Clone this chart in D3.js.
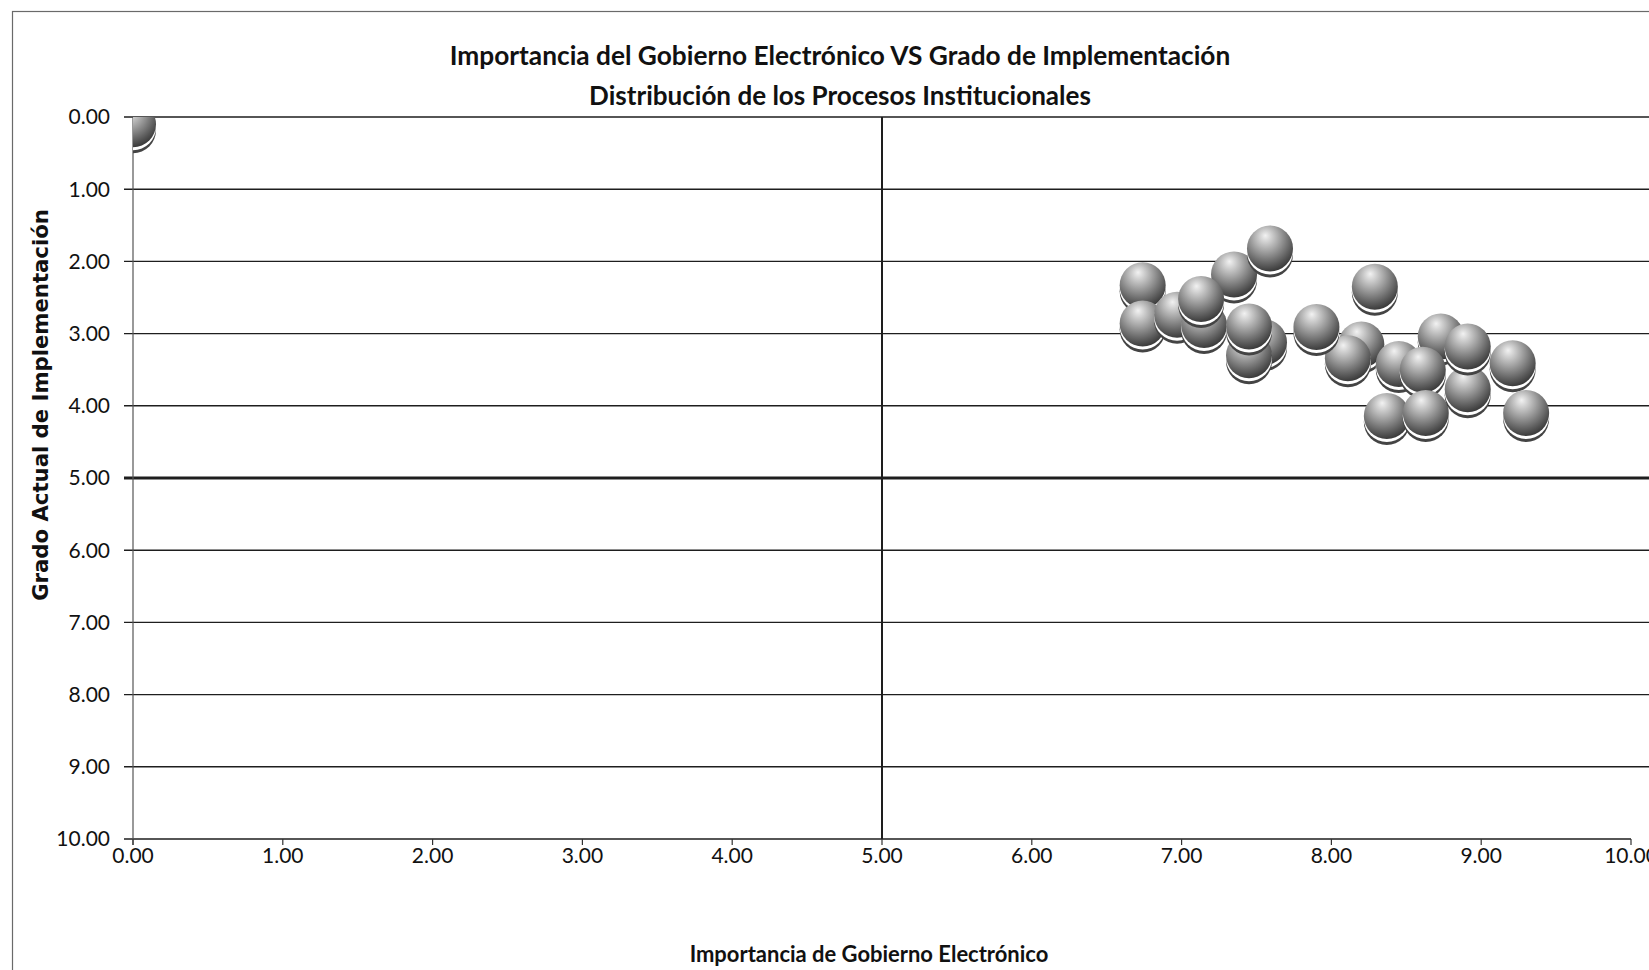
<!DOCTYPE html>
<html>
<head>
<meta charset="utf-8">
<script src="https://cdn.jsdelivr.net/npm/d3@7"></script>
<style>
  body { margin: 0; background: #fff; }
  svg { display: block; }
</style>
</head>
<body>
<div id="chart"></div>
<script>
// Texts of the chart
const titleLines = ["Importancia del Gobierno Electrónico VS Grado de Implementación",
                    "Distribución de los Procesos Institucionales"];
const xTitle = "Importancia de Gobierno Electrónico";
const yTitle = "Grado Actual de Implementación";

// Tick values of both axes
const xTicks = [0, 1, 2, 3, 4, 5, 6, 7, 8, 9, 10];
const yTicks = [0, 1, 2, 3, 4, 5, 6, 7, 8, 9, 10];

// Bubbles: importance (x) and current implementation grade (y)
const importance =     [0.00, 7.35, 7.59, 6.74, 6.74, 6.97, 7.15, 7.13, 7.55, 7.45, 7.45,
                        8.29, 8.20, 8.11, 7.90, 8.73, 8.45, 8.61, 8.37, 8.63, 8.91, 8.91, 9.21, 9.30];
const implementation = [0.10, 2.18, 1.82, 2.33, 2.86, 2.74, 2.88, 2.52, 3.12, 3.30, 2.90,
                        2.35, 3.15, 3.34, 2.91, 3.04, 3.42, 3.50, 4.14, 4.10, 3.77, 3.18, 3.41, 4.10];

const width = 1649, height = 970;
const margin = {top: 117, right: 18, bottom: 131, left: 133};
const bubbleR = 23;

const svg = d3.select("#chart")
  .append("svg")
  .attr("width", width)
  .attr("height", height);

// outer frame of the chart (cut by the picture on the right and bottom)
svg.append("rect")
  .attr("x", 12.5).attr("y", 11.5)
  .attr("width", width).attr("height", height)
  .attr("fill", "none")
  .attr("stroke", "#6a6a6a")
  .attr("stroke-width", 1.2);

const x = d3.scaleLinear().domain([0, 10]).range([margin.left, width - margin.right]);
const y = d3.scaleLinear().domain([0, 10]).range([margin.top, height - margin.bottom]);

// horizontal gridlines, running on to the right edge
svg.append("g")
  .selectAll("line")
  .data(yTicks)
  .join("line")
    .attr("x1", x(0) - 9)
    .attr("x2", d => d == 10 ? x(10) : width)
    .attr("y1", d => y(d))
    .attr("y2", d => y(d))
    .attr("stroke", "#1e1e1e")
    .attr("stroke-width", d => d == 5 ? 3 : 1.4);

// y axis line
svg.append("line")
  .attr("x1", x(0)).attr("x2", x(0))
  .attr("y1", y(0)).attr("y2", y(10) + 6)
  .attr("stroke", "#555")
  .attr("stroke-width", 1.2);

// x axis ticks (pointing down)
svg.append("g")
  .selectAll("line")
  .data(xTicks)
  .join("line")
    .attr("x1", d => x(d)).attr("x2", d => x(d))
    .attr("y1", y(10)).attr("y2", y(10) + 6)
    .attr("stroke", "#333")
    .attr("stroke-width", 1.2);

// vertical line at x = 5
svg.append("line")
  .attr("x1", x(5)).attr("x2", x(5))
  .attr("y1", y(0)).attr("y2", y(10))
  .attr("stroke", "#1e1e1e")
  .attr("stroke-width", 2);

// tick labels
const fmt = d3.format(".2f");
svg.append("g")
  .selectAll("text")
  .data(yTicks)
  .join("text")
    .attr("x", x(0) - 23)
    .attr("y", d => y(d))
    .attr("dy", "0.35em")
    .attr("text-anchor", "end")
    .attr("font-family", "Lato, sans-serif")
    .attr("font-size", 21)
    .attr("fill", "#111")
    .text(d => fmt(d));

svg.append("g")
  .selectAll("text")
  .data(xTicks)
  .join("text")
    .attr("x", d => x(d))
    .attr("y", y(10) + 17)
    .attr("dy", "0.35em")
    .attr("text-anchor", "middle")
    .attr("font-family", "Lato, sans-serif")
    .attr("font-size", 21)
    .attr("fill", "#111")
    .text(d => fmt(d));

// bubbles: 3D grey spheres with a reflection rim under them
const defs = svg.append("defs");
const grad = defs.append("radialGradient")
  .attr("id", "sphere")
  .attr("cx", "42%").attr("cy", "32%").attr("r", "72%")
  .attr("fx", "40%").attr("fy", "22%");
grad.append("stop").attr("offset", "0%").attr("stop-color", "#f2f2f2");
grad.append("stop").attr("offset", "40%").attr("stop-color", "#a6a6a6");
grad.append("stop").attr("offset", "82%").attr("stop-color", "#555");
grad.append("stop").attr("offset", "100%").attr("stop-color", "#333");

defs.append("clipPath")
  .attr("id", "plotClip")
  .append("rect")
  .attr("x", x(0)).attr("y", y(0))
  .attr("width", width - x(0)).attr("height", y(10) - y(0));

const points = importance.map((v, i) => ({x: v, y: implementation[i]}));

const bubble = svg.append("g")
  .attr("clip-path", "url(#plotClip)")
  .selectAll("g")
  .data(points)
  .join("g")
    .attr("transform", d => `translate(${x(d.x)},${y(d.y)})`);

bubble.append("circle")
  .attr("cy", 6)
  .attr("r", bubbleR)
  .attr("fill", "#444");
bubble.append("circle")
  .attr("cy", 3)
  .attr("r", bubbleR)
  .attr("fill", "#fff");
bubble.append("circle")
  .attr("r", bubbleR)
  .attr("fill", "url(#sphere)");

// shrink or grow a text so it spans the wanted width
function fitWidth(sel, target) {
  const w = sel.node().getComputedTextLength();
  sel.attr("font-size", parseFloat(sel.attr("font-size")) * target / w);
}

// titles
const t1 = svg.append("text")
  .attr("x", 840).attr("y", 56).attr("dy", "0.35em")
  .attr("text-anchor", "middle")
  .attr("font-family", "Lato, sans-serif")
  .attr("font-weight", "bold")
  .attr("font-size", 22)
  .attr("fill", "#111")
  .text(titleLines[0]);
fitWidth(t1, 781);

const t2 = svg.append("text")
  .attr("x", 840).attr("y", 96).attr("dy", "0.35em")
  .attr("text-anchor", "middle")
  .attr("font-family", "Lato, sans-serif")
  .attr("font-weight", "bold")
  .attr("font-size", 22)
  .attr("fill", "#111")
  .text(titleLines[1]);
fitWidth(t2, 502);

const xt = svg.append("text")
  .attr("x", 869).attr("y", 954).attr("dy", "0.35em")
  .attr("text-anchor", "middle")
  .attr("font-family", "Lato, sans-serif")
  .attr("font-weight", "bold")
  .attr("font-size", 19)
  .attr("fill", "#111")
  .text(xTitle);
fitWidth(xt, 359);

const yt = svg.append("text")
  .attr("transform", "translate(41,405) rotate(-90)")
  .attr("dy", "0.35em")
  .attr("text-anchor", "middle")
  .attr("font-family", "'DejaVu Sans', sans-serif")
  .attr("font-weight", "bold")
  .attr("font-size", 17)
  .attr("fill", "#111")
  .text(yTitle);
fitWidth(yt, 392);
</script>
</body>
</html>
